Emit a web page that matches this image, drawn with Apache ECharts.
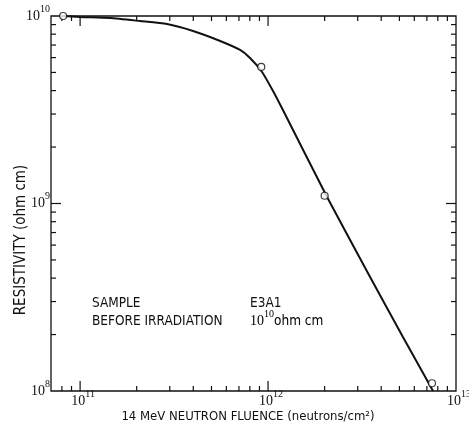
<!DOCTYPE html>
<html><head><meta charset="utf-8">
<script src="https://cdn.jsdelivr.net/npm/echarts@6/dist/echarts.min.js"></script>
<style>html,body{margin:0;padding:0;background:#fff}#c{width:469px;height:430px}</style>
</head><body><div id="c"></div>
<script>
// ---- data ----
const curveFluence = [8.12e10, 1.0e11, 1.445e11, 2.08e11, 2.9e11, 3.99e11, 5.56e11, 7.1e11, 8.02e11, 9.29e11, 1.063e12, 1.2e12, 2.06e12, 3.49e12, 5.22e12, 7.55e12];
const curveResistivity = [1.0e10, 9.88e9, 9.75e9, 9.4e9, 9.06e9, 8.32e9, 7.36e9, 6.59e9, 5.97e9, 5.03e9, 3.98e9, 3.15e9, 1.083e9, 4.06e8, 1.94e8, 1.0e8];
const pointFluence = [8.12e10, 9.2e11, 2.0e12, 7.45e12];
const pointResistivity = [1.0e10, 5.35e9, 1.1e9, 1.1e8];
const xRange = [7e10, 1e13];
const yRange = [1e8, 1e10];
const xTicks = [8e10, 9e10, 1e11, 2e11, 3e11, 4e11, 5e11, 6e11, 7e11, 8e11, 9e11, 1e12, 2e12, 3e12, 4e12, 5e12, 6e12, 7e12, 8e12, 9e12];
const yTicks = [2e8, 3e8, 4e8, 5e8, 6e8, 7e8, 8e8, 9e8, 1e9, 2e9, 3e9, 4e9, 5e9, 6e9, 7e9, 8e9, 9e9];
const xTitle = '14 MeV NEUTRON FLUENCE (neutrons/cm\u00B2)';
const yTitle = 'RESISTIVITY (ohm cm)';
const noteLabels = ['SAMPLE', 'BEFORE IRRADIATION'];
const noteValues = ['E3A1', '{b|10}{s|10}{t|ohm cm}'];

// ---- styling ----
const INK = '#111';
const SANS = "'Liberation Sans Narrow', 'DejaVu Sans Condensed', 'Liberation Sans', sans-serif";
const SERIF = "'Liberation Serif', 'DejaVu Serif', serif";
const powRich = {
  b: { fontFamily: SERIF, fontSize: 14, lineHeight: 16, color: INK },
  s: { fontFamily: SERIF, fontSize: 10, lineHeight: 12, color: INK, padding: [0, 0, 14, 0] },
  t: { fontFamily: SANS, fontSize: 13.5, lineHeight: 16, color: INK }
};
const powLabel = v => {
  const e = Math.log10(v), r = Math.round(e);
  return Math.abs(e - r) < 1e-6 ? '{b|10}{s|' + r + '}' : '';
};

function tickSeries(data, side) {
  return {
    type: 'custom', coordinateSystem: 'cartesian2d', silent: true, clip: false, z: 5,
    data: data,
    renderItem: (params, api) => {
      const v = (side === 'bottom' || side === 'top') ? api.value(0) : api.value(1);
      const e = Math.log10(v);
      const major = Math.abs(e - Math.round(e)) < 1e-6;
      const L = major ? 10 : 5;
      const p = api.coord([api.value(0), api.value(1)]);
      let x2 = p[0], y2 = p[1];
      if (side === 'bottom') y2 -= L; else if (side === 'top') y2 += L;
      else if (side === 'left') x2 += L; else x2 -= L;
      return { type: 'line', shape: { x1: p[0], y1: p[1], x2: x2, y2: y2 }, style: { stroke: INK, lineWidth: 1.2 } };
    }
  };
}

const chart = echarts.init(document.getElementById('c'), null, { renderer: 'canvas' });
chart.setOption({
  backgroundColor: '#fff',
  animation: false,
  grid: { left: 51, right: 13, top: 16, bottom: 39, show: true, borderColor: INK, borderWidth: 1.3, backgroundColor: 'transparent', containLabel: false, outerBoundsMode: 'none' },
  xAxis: {
    type: 'log', logBase: 10, min: xRange[0], max: xRange[1],
    axisLine: { show: false }, axisTick: { show: false }, splitLine: { show: false },
    axisLabel: { formatter: powLabel, rich: powRich, margin: 2, hideOverlap: false, showMinLabel: true, showMaxLabel: true, padding: [0, 0, 0, 6] },
    name: xTitle, nameLocation: 'middle', nameGap: 19, nameMoveOverlap: false,
    nameTextStyle: { fontFamily: SANS, fontSize: 13, color: INK, padding: [0, 11, 0, 0] }
  },
  yAxis: {
    type: 'log', logBase: 10, min: yRange[0], max: yRange[1],
    axisLine: { show: false }, axisTick: { show: false }, splitLine: { show: false },
    axisLabel: { formatter: powLabel, rich: powRich, margin: 1, hideOverlap: false, showMinLabel: true, showMaxLabel: true }
  },
  graphic: [
    { type: 'text', x: 21, y: 240, rotation: Math.PI / 2, style: { text: yTitle, fontFamily: SANS, fontSize: 15, fill: INK, align: 'center', verticalAlign: 'middle' } },
    { type: 'text', x: 92, y: 303, style: { text: noteLabels[0], fontFamily: SANS, fontSize: 13.5, fill: INK, verticalAlign: 'middle' } },
    { type: 'text', x: 92, y: 321, style: { text: noteLabels[1], fontFamily: SANS, fontSize: 13.5, fill: INK, verticalAlign: 'middle' } },
    { type: 'text', x: 250, y: 303, style: { text: noteValues[0], fontFamily: SANS, fontSize: 13.5, fill: INK, verticalAlign: 'middle' } },
    { type: 'text', x: 250, y: 321, style: { text: noteValues[1], rich: powRich, verticalAlign: 'middle' } }
  ],
  series: [
    {
      type: 'line', data: curveFluence.map((x, i) => [x, curveResistivity[i]]),
      showSymbol: false, smooth: 0.2, clip: false,
      lineStyle: { color: INK, width: 2 }, z: 3
    },
    {
      type: 'scatter', data: pointFluence.map((x, i) => [x, pointResistivity[i]]),
      symbol: 'circle', symbolSize: 7, clip: false,
      itemStyle: { color: '#fff', borderColor: INK, borderWidth: 1.2 }, z: 6
    },
    tickSeries(xTicks.map(v => [v, yRange[0]]), 'bottom'),
    tickSeries(xTicks.map(v => [v, yRange[1]]), 'top'),
    tickSeries(yTicks.map(v => [xRange[0], v]), 'left'),
    tickSeries(yTicks.map(v => [xRange[1], v]), 'right')
  ]
});
</script></body></html>
